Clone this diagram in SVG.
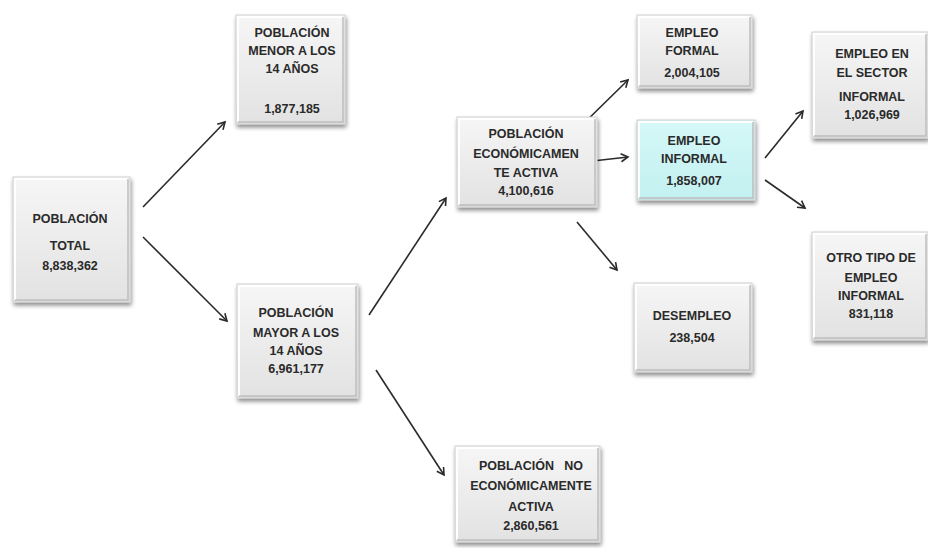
<svg xmlns="http://www.w3.org/2000/svg" width="928" height="548" viewBox="0 0 928 548">
<defs>
<linearGradient id="g" x1="0" y1="0" x2="0" y2="1">
<stop offset="0" stop-color="#f6f6f6"/>
<stop offset="1" stop-color="#e2e2e2"/>
</linearGradient>
<linearGradient id="c" x1="0" y1="0" x2="0" y2="1">
<stop offset="0" stop-color="#d6f8f8"/>
<stop offset="1" stop-color="#c2f0f0"/>
</linearGradient>
<filter id="sh" x="-20%" y="-20%" width="140%" height="140%">
<feGaussianBlur in="SourceAlpha" stdDeviation="2"/>
<feOffset dx="1" dy="3" result="b"/>
<feComponentTransfer><feFuncA type="linear" slope="0.45"/></feComponentTransfer>
<feMerge><feMergeNode/><feMergeNode in="SourceGraphic"/></feMerge>
</filter>
<marker id="ah" markerWidth="10" markerHeight="10" refX="8" refY="5" orient="auto" markerUnits="userSpaceOnUse">
<path d="M1,1 L8,5 L1,9" fill="none" stroke="#2a2a2a" stroke-width="1.6"/>
</marker>
</defs>
<style>
.box{fill:url(#g);stroke:#d0d0d0;stroke-width:1;filter:url(#sh)}
.cyan{fill:url(#c)}
.hi{fill:none;stroke:#ffffff;stroke-width:2}
.lo{fill:none;stroke:#bdbdbd;stroke-width:1.5}
text{font-family:"Liberation Sans",Arial,sans-serif;font-weight:bold;font-size:12.5px;fill:#2a2a2a;text-anchor:middle}
.conn line{stroke:#2a2a2a;stroke-width:1.6;marker-end:url(#ah)}
</style>
<rect width="928" height="548" fill="#ffffff"/>

<g class="conn">
<line x1="143" y1="207" x2="225" y2="122"/>
<line x1="143" y1="237" x2="227" y2="321"/>
<line x1="369" y1="315" x2="446" y2="198"/>
<line x1="376" y1="370" x2="444" y2="475"/>
<line x1="577" y1="130" x2="628" y2="80"/>
<line x1="575" y1="163" x2="628" y2="157"/>
<line x1="577" y1="222" x2="617" y2="270"/>
<line x1="765" y1="158" x2="803" y2="111"/>
<line x1="765" y1="180" x2="805" y2="208"/>
</g>

<g id="total">
<rect class="box" x="13" y="177" width="117" height="125"/>
<path class="hi" d="M15,300 V179 H128"/>
<path class="lo" d="M15,300 H128 V179"/>
<text x="70" y="223">POBLACIÓN</text>
<text x="70" y="250">TOTAL</text>
<text x="70" y="270">8,838,362</text>
</g>

<g id="menor">
<rect class="box" x="236" y="15" width="109" height="109"/>
<path class="hi" d="M238,122 V17 H343"/>
<path class="lo" d="M238,122 H343 V17"/>
<text x="292" y="37">POBLACIÓN</text>
<text x="292" y="55">MENOR A LOS</text>
<text x="292" y="73">14 AÑOS</text>
<text x="292" y="113">1,877,185</text>
</g>

<g id="mayor">
<rect class="box" x="237" y="284" width="121" height="114"/>
<path class="hi" d="M239,396 V286 H356"/>
<path class="lo" d="M239,396 H356 V286"/>
<text x="296" y="317">POBLACIÓN</text>
<text x="296" y="337">MAYOR A LOS</text>
<text x="296" y="355">14 AÑOS</text>
<text x="296" y="373">6,961,177</text>
</g>

<g id="pea">
<rect class="box" x="457" y="117" width="140" height="90"/>
<path class="hi" d="M459,205 V119 H595"/>
<path class="lo" d="M459,205 H595 V119"/>
<text x="526" y="138">POBLACIÓN</text>
<text x="526" y="158">ECONÓMICAMEN</text>
<text x="526" y="177">TE ACTIVA</text>
<text x="526" y="195">4,100,616</text>
</g>

<g id="formal">
<rect class="box" x="637" y="15" width="115" height="73"/>
<path class="hi" d="M639,86 V17 H750"/>
<path class="lo" d="M639,86 H750 V17"/>
<text x="692" y="37">EMPLEO</text>
<text x="692" y="55">FORMAL</text>
<text x="692" y="77">2,004,105</text>
</g>

<g id="informal">
<rect class="box cyan" x="637" y="120" width="118" height="80"/>
<path class="hi" d="M639,198 V122 H753" stroke="#e8ffff"/>
<path class="lo" d="M639,198 H753 V122" stroke="#a9d8d8"/>
<text x="694" y="145">EMPLEO</text>
<text x="694" y="163">INFORMAL</text>
<text x="694" y="185">1,858,007</text>
</g>

<g id="sector">
<rect class="box" x="812" y="32" width="116" height="106"/>
<path class="hi" d="M814,136 V34 H926"/>
<path class="lo" d="M814,136 H926 V34"/>
<text x="872" y="58">EMPLEO EN</text>
<text x="872" y="77">EL SECTOR</text>
<text x="872" y="101">INFORMAL</text>
<text x="872" y="119">1,026,969</text>
</g>

<g id="otro">
<rect class="box" x="812" y="232" width="116" height="108"/>
<path class="hi" d="M814,338 V234 H926"/>
<path class="lo" d="M814,338 H926 V234"/>
<text x="871" y="262">OTRO TIPO  DE</text>
<text x="871" y="282">EMPLEO</text>
<text x="871" y="300">INFORMAL</text>
<text x="871" y="318">831,118</text>
</g>

<g id="desempleo">
<rect class="box" x="634" y="283" width="118" height="89"/>
<path class="hi" d="M636,370 V285 H750"/>
<path class="lo" d="M636,370 H750 V285"/>
<text x="692" y="320">DESEMPLEO</text>
<text x="692" y="342">238,504</text>
</g>

<g id="noeco">
<rect class="box" x="455" y="446" width="145" height="96"/>
<path class="hi" d="M457,540 V448 H598"/>
<path class="lo" d="M457,540 H598 V448"/>
<text x="531" y="470" xml:space="preserve">POBLACIÓN   NO</text>
<text x="531" y="490">ECONÓMICAMENTE</text>
<text x="531" y="511">ACTIVA</text>
<text x="531" y="530">2,860,561</text>
</g>
</svg>
